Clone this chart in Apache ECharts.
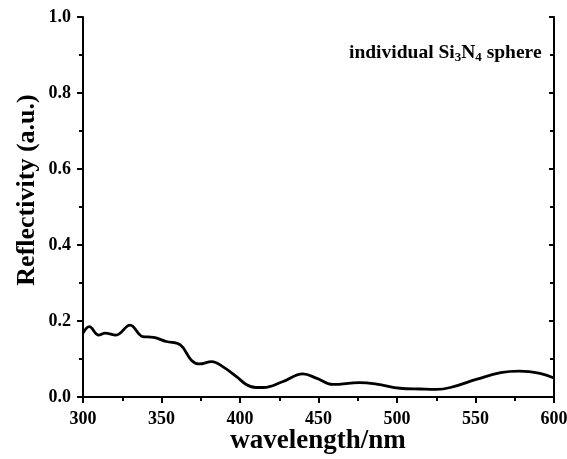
<!DOCTYPE html>
<html><head><meta charset="utf-8">
<script src="https://cdn.jsdelivr.net/npm/echarts@6/dist/echarts.min.js"></script>
<style>html,body{margin:0;padding:0;background:#fff}#c{width:567px;height:459px}</style>
</head><body><div id="c"></div>
<script>
const wavelength = [300,304,310,314,321,330,338,345,353,362,369,374,382,389,398,404,410,415,427,440,449,459,476,487,502,515,525,534,551,566,578,591,600];
const reflectivity = [0.168,0.185,0.163,0.168,0.163,0.189,0.159,0.157,0.146,0.137,0.097,0.087,0.093,0.080,0.053,0.033,0.025,0.025,0.040,0.061,0.049,0.033,0.038,0.034,0.023,0.021,0.020,0.025,0.047,0.064,0.068,0.062,0.050];
const xTitle = 'wavelength/nm';
const yTitle = 'Reflectivity (a.u.)';
const ff = '"Liberation Serif","Times New Roman",serif';
const chart = echarts.init(document.getElementById('c'));
const lbl = {color:'#000', fontFamily:ff, fontWeight:'bold', fontSize:18};
const axLine = {lineStyle:{color:'#000',width:2}};
chart.setOption({
  animation:false,
  grid:{left:83,right:13,top:17,bottom:62,containLabel:false,outerBoundsMode:'none'},
  xAxis:[{
    type:'value', min:300, max:600, interval:50,
    axisLine:axLine,
    axisTick:{length:6,lineStyle:{color:'#000',width:2}},
    minorTick:{show:true,splitNumber:2,length:4,lineStyle:{color:'#000',width:2}},
    splitLine:{show:false},
    axisLabel:Object.assign({margin:13},lbl)
  },{
    type:'value', position:'top', min:300, max:600,
    axisLine:axLine,
    axisTick:{show:false}, axisLabel:{show:false}, splitLine:{show:false}
  }],
  yAxis:[{
    type:'value', min:0, max:1, interval:0.2,
    axisLine:axLine,
    axisTick:{length:6,lineStyle:{color:'#000',width:2}},
    minorTick:{show:true,splitNumber:2,length:4,lineStyle:{color:'#000',width:2}},
    splitLine:{show:false},
    axisLabel:Object.assign({margin:12,formatter:v=>v.toFixed(1)},lbl)
  },{
    type:'value', position:'right', min:0, max:1, interval:0.2,
    axisLine:axLine,
    axisTick:{inside:true,length:5,lineStyle:{color:'#000',width:2}},
    minorTick:{show:true,splitNumber:2,length:4,lineStyle:{color:'#000',width:2}},
    axisLabel:{show:false}, splitLine:{show:false}
  }],
  graphic:[{
    type:'text', x:27, y:190, rotation:Math.PI/2,
    style:{text:yTitle, font:'bold 26px '+ff, fill:'#000', align:'center', verticalAlign:'middle'}
  },{
    type:'text', x:318, y:441,
    style:{text:xTitle, font:'bold 27px '+ff, fill:'#000', align:'center', verticalAlign:'middle'}
  },{
    type:'text', left:349, top:43,
    style:{
      text:'individual Si{s|3}N{s|4} sphere',
      font:'bold 19.5px '+ff, fill:'#000',
      rich:{s:{fontSize:13,fontWeight:'bold',fontFamily:ff,fill:'#000',padding:[9,0,0,0]}}
    }
  }],
  series:[{
    type:'line', xAxisIndex:0, yAxisIndex:0, smooth:0.4, symbol:'none',
    lineStyle:{color:'#000',width:2.8},
    data:wavelength.map((w,i)=>[w,reflectivity[i]])
  }]
});
</script></body></html>
